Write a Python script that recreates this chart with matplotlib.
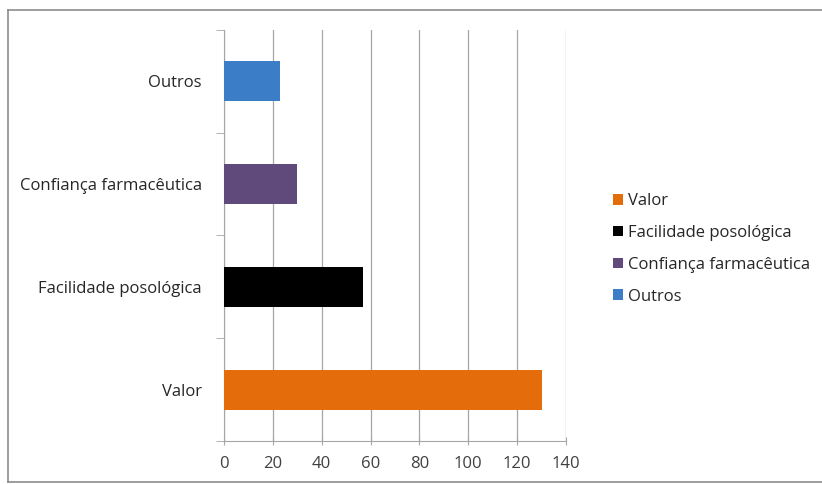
import matplotlib.pyplot as plt
from matplotlib.patches import Patch
from matplotlib.lines import Line2D

# data
categories = ["Valor", "Facilidade posológica", "Confiança farmacêutica", "Outros"]
values = [130, 57, 30, 23]
colors = ["#E46C0A", "#000000", "#604A7B", "#3C7DC8"]
xticks = [0, 20, 40, 60, 80, 100, 120, 140]

plt.rcParams['font.family'] = ['Open Sans', 'DejaVu Sans']

fig = plt.figure(figsize=(8.22, 4.84), dpi=100)
ax = fig.add_axes([0.2725, 0.089, 0.416, 0.849])

# outer chart frame: top, left and bottom only, right side runs off the picture
fx0, fy0, fy1 = 8 / 822, 2 / 484, 474 / 484
for xs, ys in [([fx0, 1.0], [fy1, fy1]), ([fx0, fx0], [fy0, fy1]), ([fx0, 1.0], [fy0, fy0])]:
    fig.lines.append(Line2D(xs, ys, transform=fig.transFigure, color="#8C8C8C", linewidth=1.2))

ypos = list(range(len(categories)))
ax.barh(ypos, values, height=0.39, color=colors, zorder=3)

ax.set_xlim(0, 140)
ax.set_ylim(-0.5, 3.5)
ax.set_xticks(xticks)
ax.set_xticklabels([str(t) for t in xticks], fontsize=12, color="#404040")
ax.set_yticks(ypos)
ax.set_yticklabels(categories, fontsize=12, color="#262626")
ax.set_yticks([-0.5, 0.5, 1.5, 2.5, 3.5], minor=True)
ax.tick_params(axis='y', which='major', length=0, pad=16)
ax.tick_params(axis='y', which='minor', length=6, color="#A6A6A6", direction='out')
ax.tick_params(axis='x', length=6, color="#A6A6A6", direction='inout', pad=8)
ax.grid(axis='x', color="#A6A6A6", linewidth=0.9, zorder=0)

for s in ['top', 'right']:
    ax.spines[s].set_visible(False)
ax.spines['left'].set_color("#A6A6A6")
ax.spines['bottom'].set_color("#A6A6A6")

handles = [Patch(facecolor=c, edgecolor='none') for c in colors]
fig.legend(handles, categories, loc='upper left', bbox_to_anchor=(0.727, 0.632),
           frameon=False, fontsize=12, handlelength=0.6, handleheight=0.6,
           handletextpad=0.3, labelspacing=0.95, labelcolor="#262626")

fig.savefig("out.png", dpi=100)
